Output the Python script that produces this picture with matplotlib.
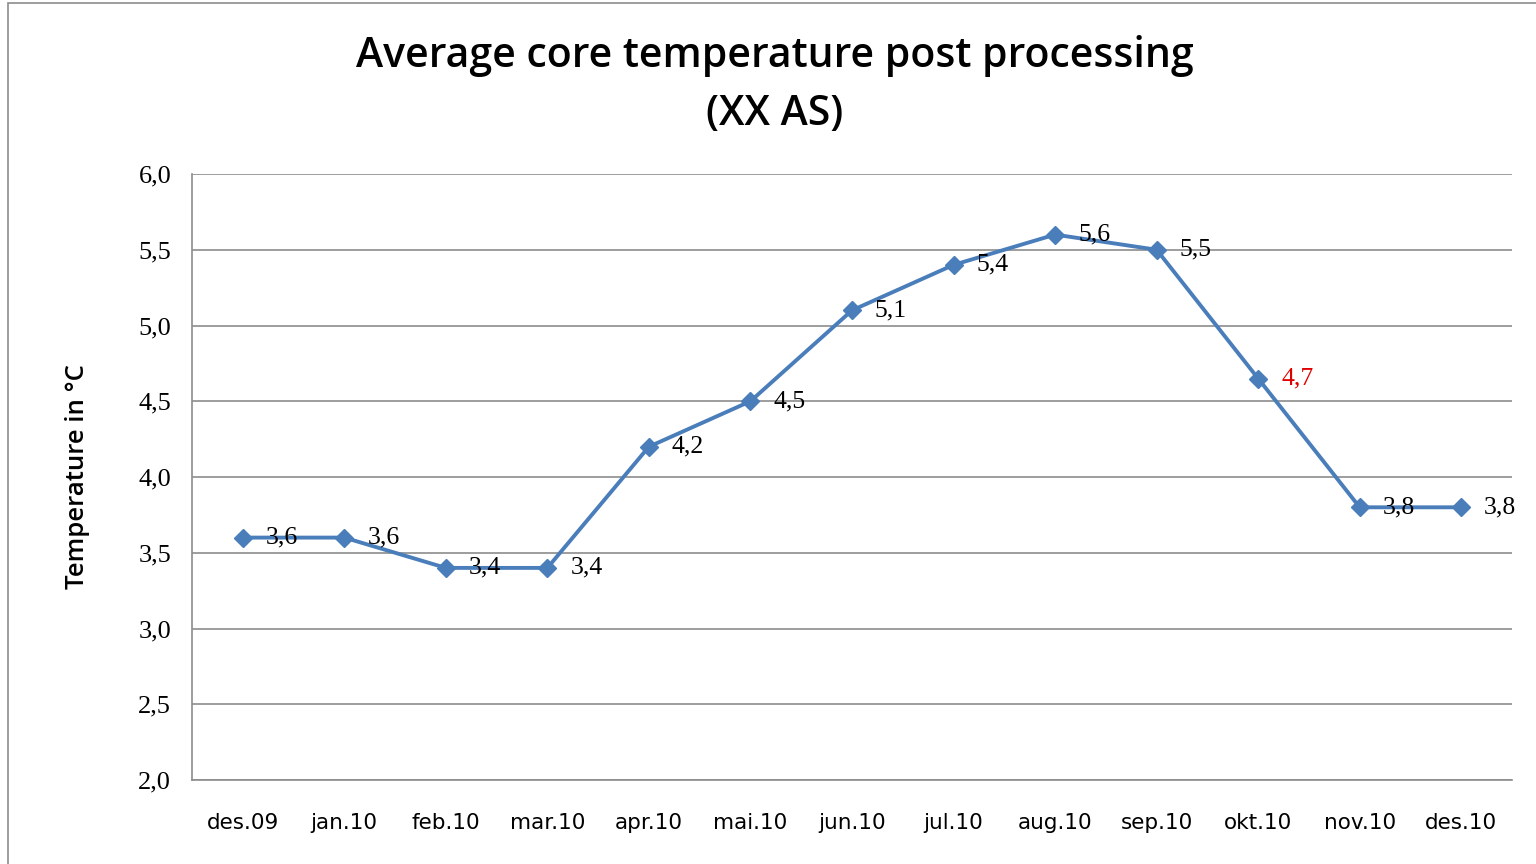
"""Average core temperature post processing (XX AS) - monthly line chart."""
import matplotlib

matplotlib.use("Agg")
import matplotlib.pyplot as plt  # noqa: E402
from matplotlib.patches import Rectangle  # noqa: E402

MONTHS = ["des.09", "jan.10", "feb.10", "mar.10", "apr.10", "mai.10", "jun.10",
          "jul.10", "aug.10", "sep.10", "okt.10", "nov.10", "des.10"]
TEMPS = [3.6, 3.6, 3.4, 3.4, 4.2, 4.5, 5.1, 5.4, 5.6, 5.5, 4.65, 3.8, 3.8]
LABELS = ["3,6", "3,6", "3,4", "3,4", "4,2", "4,5", "5,1", "5,4", "5,6", "5,5",
          "4,7", "3,8", "3,8"]
HIGHLIGHT = "okt.10"  # label shown in red
YTICKS = [2.0, 2.5, 3.0, 3.5, 4.0, 4.5, 5.0, 5.5, 6.0]

LINE_COLOR = "#4a7ebb"
GRID_COLOR = "#8c8c8c"
SERIF = "Liberation Serif"
SANS = "DejaVu Sans"


def main():
    fig = plt.figure(figsize=(15.36, 8.64), dpi=100)
    # outer chart frame, like the spreadsheet chart area
    fig.patches.append(Rectangle((8 / 1536, -0.01), 1.2, 1 - 3 / 864 + 0.01,
                                 transform=fig.transFigure, fill=False,
                                 edgecolor="#8c8c8c", lw=1.2))

    ax = fig.add_axes([192 / 1536, 1 - 780 / 864, 1320 / 1536, 606 / 864])
    x = list(range(len(MONTHS)))
    ax.plot(x, TEMPS, color=LINE_COLOR, lw=2.8, marker="D", ms=9,
            zorder=3, clip_on=False)

    for xi, yi, lab, m in zip(x, TEMPS, LABELS, MONTHS):
        ax.annotate(lab, (xi, yi), xytext=(23, 0), textcoords="offset pixels",
                    ha="left", va="center", fontsize=18.5, family=SERIF,
                    color="#e00000" if m == HIGHLIGHT else "black", zorder=4)

    ax.set_xlim(-0.5, len(MONTHS) - 0.5)
    ax.set_ylim(2.0, 6.0)
    ax.set_yticks(YTICKS)
    ax.set_yticklabels([f"{t:.1f}".replace(".", ",") for t in YTICKS],
                       family=SERIF, fontsize=19)
    ax.set_xticks(x)
    ax.set_xticklabels(MONTHS, family=SANS, fontsize=15.5)
    ax.tick_params(axis="both", length=0)
    ax.tick_params(axis="y", pad=15)
    ax.tick_params(axis="x", pad=24)

    ax.grid(axis="y", color=GRID_COLOR, lw=1.2)
    ax.set_axisbelow(True)
    for side in ("top", "right"):
        ax.spines[side].set_visible(False)
    for side in ("left", "bottom"):
        ax.spines[side].set_color(GRID_COLOR)
        ax.spines[side].set_linewidth(1.2)

    fig.text(78 / 1536, 1 - 477 / 864, "Temperature in °C", rotation=90,
             ha="center", va="center", fontsize=18.5, family="Open Sans",
             fontweight="semibold")
    fig.text(775 / 1536, 1 - 85 / 864, "Average core temperature post processing\n(XX AS)",
             ha="center", va="center", fontsize=29.5, family="Open Sans",
             fontweight="semibold", linespacing=1.5)

    fig.savefig("out.png", dpi=100, facecolor="white")
    plt.close(fig)


if __name__ == "__main__":
    main()
